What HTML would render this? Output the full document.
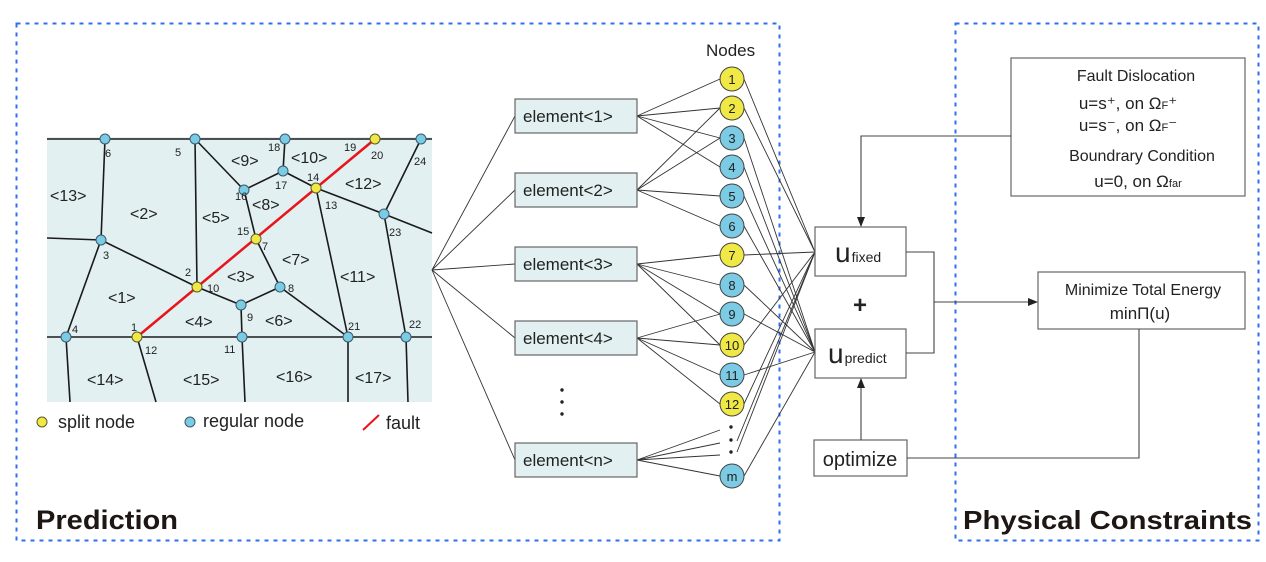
<!DOCTYPE html>
<html><head><meta charset="utf-8"><style>
html,body{margin:0;padding:0;background:#fff;}
svg{display:block;font-family:"Liberation Sans",sans-serif;}
</style></head><body>
<svg width="1266" height="562" viewBox="0 0 1266 562" xmlns="http://www.w3.org/2000/svg">
<defs><marker id="ar" markerWidth="10" markerHeight="8" refX="9" refY="4" orient="auto" markerUnits="userSpaceOnUse"><path d="M0,0 L10,4 L0,8 Z" fill="#222"/></marker></defs>
<rect x="16.5" y="23.5" width="763" height="517" fill="none" stroke="#2f6fef" stroke-width="2" stroke-dasharray="4,5"/>
<rect x="955.5" y="23.5" width="303" height="517" fill="none" stroke="#2f6fef" stroke-width="2" stroke-dasharray="4,5"/>

<rect x="47" y="137" width="385" height="265" fill="#e2f0f1"/>
<g stroke="#1a1a1a" stroke-width="1.6" fill="none">
<line x1="47" y1="139" x2="432" y2="139"/>
<line x1="47" y1="337" x2="432" y2="337"/>
<line x1="47" y1="238" x2="101" y2="240"/>
<line x1="105" y1="139" x2="101" y2="240"/>
<line x1="101" y1="240" x2="66" y2="337"/>
<line x1="101" y1="240" x2="197" y2="287"/>
<line x1="195" y1="139" x2="197" y2="287"/>
<line x1="195" y1="139" x2="244" y2="190"/>
<line x1="244" y1="190" x2="283" y2="171"/>
<line x1="283" y1="171" x2="285" y2="139"/>
<line x1="283" y1="171" x2="316" y2="188"/>
<line x1="316" y1="188" x2="384" y2="214"/>
<line x1="384" y1="214" x2="432" y2="233"/>
<line x1="384" y1="214" x2="421" y2="139"/>
<line x1="384" y1="214" x2="406" y2="337"/>
<line x1="244" y1="190" x2="256" y2="239"/>
<line x1="256" y1="239" x2="280" y2="287"/>
<line x1="197" y1="287" x2="241" y2="305"/>
<line x1="241" y1="305" x2="280" y2="287"/>
<line x1="241" y1="305" x2="242" y2="337"/>
<line x1="280" y1="287" x2="348" y2="337"/>
<line x1="316" y1="188" x2="348" y2="337"/>
<line x1="66" y1="337" x2="70" y2="402"/>
<line x1="137" y1="337" x2="156" y2="402"/>
<line x1="242" y1="337" x2="245" y2="402"/>
<line x1="348" y1="337" x2="348" y2="402"/>
<line x1="406" y1="337" x2="408" y2="402"/>
</g>
<line x1="137" y1="337" x2="375" y2="139" stroke="#e8141a" stroke-width="2.5"/>
<g stroke="#3a5a6a" stroke-width="1" fill="#7ccbe4">
<circle cx="105" cy="139" r="5"/><circle cx="195" cy="139" r="5"/><circle cx="285" cy="139" r="5"/><circle cx="421" cy="139" r="5"/>
<circle cx="101" cy="240" r="5"/><circle cx="66" cy="337" r="5"/><circle cx="242" cy="337" r="5"/><circle cx="348" cy="337" r="5"/><circle cx="406" cy="337" r="5"/>
<circle cx="241" cy="305" r="5"/><circle cx="280" cy="287" r="5"/><circle cx="244" cy="190" r="5"/><circle cx="283" cy="171" r="5"/><circle cx="384" cy="214" r="5"/>
</g>
<g stroke="#5a5a2a" stroke-width="1" fill="#f0e845">
<circle cx="375" cy="139" r="5"/><circle cx="316" cy="188" r="5"/><circle cx="256" cy="239" r="5"/><circle cx="197" cy="287" r="5"/><circle cx="137" cy="337" r="5"/>
</g>
<g font-size="11" fill="#222">
<text x="105" y="157">6</text><text x="175" y="156">5</text><text x="268" y="151">18</text><text x="344" y="151">19</text><text x="371" y="159">20</text><text x="414" y="165">24</text>
<text x="235" y="200">16</text><text x="275" y="189">17</text><text x="307" y="181">14</text><text x="325" y="209">13</text><text x="389" y="236">23</text>
<text x="237" y="235">15</text><text x="262" y="250">7</text><text x="103" y="259">3</text><text x="185" y="276">2</text><text x="207" y="292">10</text>
<text x="247" y="321">9</text><text x="288" y="292">8</text><text x="72" y="333">4</text><text x="131" y="331">1</text><text x="145" y="354">12</text>
<text x="224" y="353">11</text><text x="348" y="330">21</text><text x="409" y="328">22</text>
</g>
<g font-size="16" fill="#222">
<text x="50" y="201">&lt;13&gt;</text><text x="130" y="219">&lt;2&gt;</text><text x="202" y="223">&lt;5&gt;</text><text x="231" y="166">&lt;9&gt;</text><text x="291" y="163">&lt;10&gt;</text>
<text x="345" y="189">&lt;12&gt;</text><text x="252" y="210">&lt;8&gt;</text><text x="282" y="265">&lt;7&gt;</text><text x="340" y="282">&lt;11&gt;</text><text x="227" y="282">&lt;3&gt;</text>
<text x="108" y="303">&lt;1&gt;</text><text x="185" y="327">&lt;4&gt;</text><text x="265" y="326">&lt;6&gt;</text>
<text x="87" y="385">&lt;14&gt;</text><text x="183" y="385">&lt;15&gt;</text><text x="276" y="382">&lt;16&gt;</text><text x="355" y="383">&lt;17&gt;</text>
</g>
<circle cx="42" cy="422" r="5" fill="#f0e845" stroke="#5a5a2a"/>
<text x="58" y="428" font-size="18" fill="#222">split node</text>
<circle cx="190" cy="422" r="5" fill="#7ccbe4" stroke="#3a5a6a"/>
<text x="203" y="427" font-size="18" fill="#222">regular node</text>
<line x1="363" y1="430" x2="379" y2="415" stroke="#e8141a" stroke-width="2"/>
<text x="386" y="429" font-size="18" fill="#222">fault</text>
<text x="36" y="529" font-size="27" font-weight="bold" fill="#1e1612" textLength="142" lengthAdjust="spacingAndGlyphs">Prediction</text>
<text x="963" y="529" font-size="26" font-weight="bold" fill="#1e1612" textLength="289" lengthAdjust="spacingAndGlyphs">Physical Constraints</text>

<g stroke="#333" stroke-width="0.9" fill="none">
<line x1="432" y1="270" x2="515" y2="116"/><line x1="432" y1="270" x2="515" y2="190"/><line x1="432" y1="270" x2="515" y2="264"/><line x1="432" y1="270" x2="515" y2="338"/><line x1="432" y1="270" x2="515" y2="460"/>
<line x1="637" y1="116" x2="720" y2="79"/><line x1="637" y1="116" x2="720" y2="108"/><line x1="637" y1="116" x2="720" y2="138"/><line x1="637" y1="116" x2="720" y2="167"/>
<line x1="637" y1="190" x2="720" y2="108"/><line x1="637" y1="190" x2="720" y2="138"/><line x1="637" y1="190" x2="720" y2="196"/><line x1="637" y1="190" x2="720" y2="226"/>
<line x1="637" y1="264" x2="720" y2="255"/><line x1="637" y1="264" x2="720" y2="285"/><line x1="637" y1="264" x2="720" y2="314"/><line x1="637" y1="264" x2="720" y2="345"/>
<line x1="637" y1="338" x2="720" y2="314"/><line x1="637" y1="338" x2="720" y2="345"/><line x1="637" y1="338" x2="720" y2="375"/><line x1="637" y1="338" x2="720" y2="404"/>
<line x1="637" y1="460" x2="720" y2="430"/><line x1="637" y1="460" x2="720" y2="443"/><line x1="637" y1="460" x2="720" y2="455"/><line x1="637" y1="460" x2="720" y2="476"/>
<line x1="744" y1="79" x2="815" y2="252"/><line x1="744" y1="108" x2="815" y2="252"/><line x1="744" y1="255" x2="815" y2="252"/><line x1="744" y1="345" x2="815" y2="252"/><line x1="744" y1="404" x2="815" y2="252"/><line x1="737" y1="441" x2="815" y2="252"/><line x1="737" y1="452" x2="815" y2="252"/>
<line x1="744" y1="138" x2="815" y2="352"/><line x1="744" y1="167" x2="815" y2="352"/><line x1="744" y1="196" x2="815" y2="352"/><line x1="744" y1="226" x2="815" y2="352"/><line x1="744" y1="285" x2="815" y2="352"/><line x1="744" y1="314" x2="815" y2="352"/><line x1="744" y1="375" x2="815" y2="352"/><line x1="744" y1="476" x2="815" y2="352"/>
</g>
<g stroke="#666" stroke-width="1.2" fill="#e2f0f1">
<rect x="515" y="99" width="122" height="34"/><rect x="515" y="173" width="122" height="34"/><rect x="515" y="247" width="122" height="34"/><rect x="515" y="321" width="122" height="34"/><rect x="515" y="443" width="122" height="34"/>
</g>
<g font-size="17" fill="#222">
<text x="523" y="122">element&lt;1&gt;</text><text x="523" y="196">element&lt;2&gt;</text><text x="523" y="270">element&lt;3&gt;</text><text x="523" y="344">element&lt;4&gt;</text><text x="523" y="466">element&lt;n&gt;</text>
</g>
<g fill="#222"><circle cx="562" cy="390" r="1.7"/><circle cx="562" cy="402" r="1.7"/><circle cx="562" cy="414" r="1.7"/>
<circle cx="731" cy="427" r="1.7"/><circle cx="731" cy="440" r="1.7"/><circle cx="731" cy="452" r="1.7"/></g>
<text x="706" y="56" font-size="17" fill="#222">Nodes</text>
<g stroke="#444" stroke-width="1">
<circle cx="732" cy="79" r="12" fill="#f0e845"/><circle cx="732" cy="108" r="12" fill="#f0e845"/><circle cx="732" cy="138" r="12" fill="#7ccbe4"/><circle cx="732" cy="167" r="12" fill="#7ccbe4"/><circle cx="732" cy="196" r="12" fill="#7ccbe4"/><circle cx="732" cy="226" r="12" fill="#7ccbe4"/>
<circle cx="732" cy="255" r="12" fill="#f0e845"/><circle cx="732" cy="285" r="12" fill="#7ccbe4"/><circle cx="732" cy="314" r="12" fill="#7ccbe4"/><circle cx="732" cy="345" r="12" fill="#f0e845"/><circle cx="732" cy="375" r="12" fill="#7ccbe4"/><circle cx="732" cy="404" r="12" fill="#f0e845"/><circle cx="732" cy="476" r="12" fill="#7ccbe4"/>
</g>
<g font-size="13" fill="#222" text-anchor="middle">
<text x="732" y="84">1</text><text x="732" y="113">2</text><text x="732" y="143">3</text><text x="732" y="172">4</text><text x="732" y="201">5</text><text x="732" y="231">6</text><text x="732" y="260">7</text><text x="732" y="290">8</text><text x="732" y="319">9</text><text x="732" y="350">10</text><text x="732" y="380">11</text><text x="732" y="409">12</text><text x="732" y="481">m</text>
</g>
<g stroke="#666" stroke-width="1.2" fill="#fff">
<rect x="815" y="227" width="91" height="49"/><rect x="815" y="329" width="91" height="49"/><rect x="814" y="440" width="93" height="36"/>
<rect x="1011" y="58" width="234" height="138"/><rect x="1038" y="272" width="207" height="57"/>
</g>
<text x="835" y="262" font-size="28" fill="#222">u<tspan font-size="14" dx="1">fixed</tspan></text>
<text x="828" y="363" font-size="28" fill="#222">u<tspan font-size="14" dx="1">predict</tspan></text>
<text x="853" y="313" font-size="24" fill="#222" font-weight="bold">+</text>
<text x="860" y="466" font-size="20" fill="#222" text-anchor="middle">optimize</text>
<g fill="#222" text-anchor="middle">
<text x="1136" y="81" font-size="16">Fault Dislocation</text>
<text x="1128" y="109" font-size="17">u=s⁺, on  Ω<tspan font-size="11">F</tspan>⁺</text>
<text x="1128" y="131" font-size="17">u=s⁻, on  Ω<tspan font-size="11">F</tspan>⁻</text>
<text x="1142" y="161" font-size="16">Boundrary Condition</text>
<text x="1138" y="187" font-size="17">u=0, on  Ω<tspan font-size="11">far</tspan></text>
<text x="1143" y="295" font-size="16">Minimize Total Energy</text>
<text x="1140" y="319" font-size="17">minΠ(u)</text>
</g>
<g stroke="#444" stroke-width="1.1" fill="none">
<polyline points="1011,136 861,136 861,226" marker-end="url(#ar)"/>
<polyline points="906,252 934,252 934,353 906,353"/>
<line x1="934" y1="302" x2="1037" y2="302" marker-end="url(#ar)"/>
<polyline points="1139,329 1139,458 907,458"/>
<line x1="861" y1="440" x2="861" y2="379" marker-end="url(#ar)"/>
</g>
</svg>
</body></html>
